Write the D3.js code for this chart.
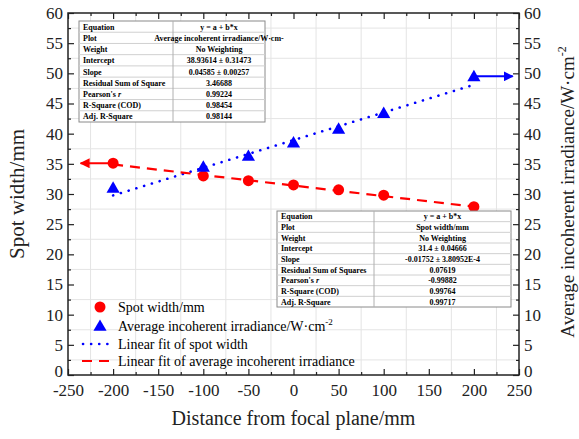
<!DOCTYPE html>
<html><head><meta charset="utf-8">
<script src="https://cdn.jsdelivr.net/npm/d3@7"></script>
<style>body{margin:0;background:#fff}svg{display:block}text{font-family:"Liberation Serif","Times New Roman",serif}</style>
</head><body><svg id="c" width="579" height="439"></svg>
<script>
const distances = [-200, -100, -50, 0, 50, 100, 200];
const spotWidth = [35.1, 33.0, 32.2, 31.5, 30.7, 29.8, 27.9];
const irradiance = [31.0, 34.5, 36.3, 38.5, 40.8, 43.4, 49.5];
const fitSpot = {a: 31.4, b: -0.01752};         // red dashed
const fitIrr = {a: 38.93614, b: 0.04585};      // blue dotted
const xTicks = [-250, -200, -150, -100, -50, 0, 50, 100, 150, 200, 250];
const yTicks = [0, 5, 10, 15, 20, 25, 30, 35, 40, 45, 50, 55, 60];
const legendLabels = ["Spot width/mm", "Average incoherent irradiance/W·cm", "Linear fit of spot width", "Linear fit of average incoherent irradiance"];
const tableTopLabels = ["Equation", "Plot", "Weight", "Intercept", "Slope", "Residual Sum of Square", "Pearson's r", "R-Square (COD)", "Adj. R-Square"];
const tableTopValues = ["y = a + b*x", "Average incoherent irradiance/W·cm-", "No Weighting", "38.93614 ± 0.31473", "0.04585 ± 0.00257", "3.46688", "0.99224", "0.98454", "0.98144"];
const tableBotLabels = ["Equation", "Plot", "Weight", "Intercept", "Slope", "Residual Sum of Squares", "Pearson's r", "R-Square (COD)", "Adj. R-Square"];
const tableBotValues = ["y = a + b*x", "Spot width/mm", "No Weighting", "31.4 ± 0.04666", "-0.01752 ± 3.80952E-4", "0.07619", "-0.99882", "0.99764", "0.99717"];

const svg = d3.select("#c");
const L = 68, R = 519, T = 13, B = 375;
const x = d3.scaleLinear().domain([-250, 250]).range([L, R]);
const y = d3.scaleLinear().domain([0, 60]).range([B, T]);
const RED = "#ff0000", BLUE = "#0000ff";

// grid at minor positions
const gx = d3.range(-225, 250, 50), gy = d3.range(2.5, 60, 5);
const grid = svg.append("g").attr("stroke", "#e4e4e4").attr("stroke-width", 1);
gx.forEach(v => grid.append("line").attr("x1", x(v)).attr("x2", x(v)).attr("y1", T).attr("y2", B));
gy.forEach(v => grid.append("line").attr("y1", y(v)).attr("y2", y(v)).attr("x1", L).attr("x2", R));

// fit lines
const fx = [-200, 200];
const line = d3.line().x(d => x(d[0])).y(d => y(d[1]));
svg.append("path").attr("d", line(fx.map(v => [v, fitIrr.a + fitIrr.b * v])))
  .attr("fill", "none").attr("stroke", BLUE).attr("stroke-width", 2.6)
  .attr("stroke-linecap", "round").attr("stroke-dasharray", "0.1 8");
svg.append("path").attr("d", line(fx.map(v => [v, fitSpot.a + fitSpot.b * v])))
  .attr("fill", "none").attr("stroke", RED).attr("stroke-width", 2.2)
  .attr("stroke-dasharray", "10 7");

// arrows
const defs = svg.append("defs");
[["ar", RED], ["ab", BLUE]].forEach(([id, c]) => {
  defs.append("marker").attr("id", id).attr("viewBox", "0 0 10 10").attr("refX", 9).attr("refY", 5)
    .attr("markerWidth", 5).attr("markerHeight", 5).attr("orient", "auto")
    .append("path").attr("d", "M0,0L10,5L0,10z").attr("fill", c);
});
svg.append("line").attr("x1", x(distances[0])).attr("x2", x(-236)).attr("y1", y(spotWidth[0])).attr("y2", y(spotWidth[0]))
  .attr("stroke", RED).attr("stroke-width", 2).attr("marker-end", "url(#ar)");
const li = distances.length - 1;
svg.append("line").attr("x1", x(distances[li])).attr("x2", x(243)).attr("y1", y(irradiance[li])).attr("y2", y(irradiance[li]))
  .attr("stroke", BLUE).attr("stroke-width", 2).attr("marker-end", "url(#ab)");

// points
svg.append("g").selectAll("circle").data(distances).join("circle")
  .attr("cx", (d) => x(d)).attr("cy", (d, i) => y(spotWidth[i])).attr("r", 5.5).attr("fill", RED);
const tri = d3.symbol().type(d3.symbolTriangle).size(75);
svg.append("g").selectAll("path").data(distances).join("path")
  .attr("d", tri).attr("fill", BLUE)
  .attr("transform", (d, i) => `translate(${x(d)},${y(irradiance[i]) + 1})`);

// tables
function table(x0, x1, xd, y0, y1, labels, values) {
  const g = svg.append("g");
  const n = labels.length, h = (y1 - y0) / n;
  g.append("rect").attr("x", x0).attr("y", y0).attr("width", x1 - x0).attr("height", y1 - y0)
    .attr("fill", "#fff").attr("stroke", "#8a8a8a").attr("stroke-width", 1);
  for (let i = 1; i < n; i++) g.append("line").attr("x1", x0).attr("x2", x1)
    .attr("y1", y0 + i * h).attr("y2", y0 + i * h).attr("stroke", "#d0d0d0");
  g.append("line").attr("x1", xd).attr("x2", xd).attr("y1", y0).attr("y2", y1).attr("stroke", "#b0b0b0");
  labels.forEach((t, i) => {
    const tx = g.append("text").attr("x", x0 + 4).attr("y", y0 + i * h + h / 2 + 3)
      .attr("font-size", 8).attr("font-weight", "bold");
    if (t.endsWith(" r")) { tx.text(t.slice(0, -1)); tx.append("tspan").attr("font-style", "italic").text("r"); }
    else tx.text(t);
  });
  values.forEach((t, i) => g.append("text").attr("x", (xd + x1) / 2).attr("y", y0 + i * h + h / 2 + 3)
    .attr("text-anchor", "middle").attr("font-size", 8).attr("font-weight", "bold").text(t));
}
table(79, 265, 173, 21, 122, tableTopLabels, tableTopValues);
table(277, 511, 374, 211, 307, tableBotLabels, tableBotValues);

// legend
const lg = svg.append("g");
const ly = [307, 326, 344, 361];
lg.append("circle").attr("cx", 100).attr("cy", ly[0]).attr("r", 5.5).attr("fill", RED);
lg.append("path").attr("d", tri).attr("fill", BLUE).attr("transform", `translate(100,${ly[1] + 1})`);
lg.append("line").attr("x1", 83).attr("x2", 111).attr("y1", ly[2]).attr("y2", ly[2]).attr("stroke", BLUE)
  .attr("stroke-width", 2.6).attr("stroke-linecap", "round").attr("stroke-dasharray", "0.1 8");
lg.append("line").attr("x1", 82).attr("x2", 110).attr("y1", ly[3]).attr("y2", ly[3]).attr("stroke", RED)
  .attr("stroke-width", 2.2).attr("stroke-dasharray", "10 7");
legendLabels.forEach((t, i) => {
  const tx = lg.append("text").attr("x", 118).attr("y", ly[i] + 5).attr("font-size", 14).text(t);
  if (i === 1) tx.append("tspan").attr("font-size", 9).attr("dy", -6).text("-2");
});

// axes
const fmt = d => d;
function ax(gen, tr, ticks, minor, labels, pad) {
  const a = svg.append("g").attr("transform", tr);
  a.call(gen.tickValues(ticks).tickSizeInner(-6).tickSizeOuter(0).tickPadding(pad).tickFormat(labels ? fmt : ""));
  a.selectAll("text").attr("font-size", 17).attr("font-family", "Liberation Serif").attr("fill", "#222");
  a.select(".domain").remove();
  const m = svg.append("g").attr("transform", tr);
  m.call(gen.tickValues(minor).tickSizeInner(-3).tickSizeOuter(0).tickFormat(""));
  m.select(".domain").remove();
  return a;
}
const xMinor = d3.range(-225, 250, 50), yMinor = d3.range(2.5, 60, 5);
ax(d3.axisBottom(x), `translate(0,${B})`, xTicks, xMinor, true, 9);
ax(d3.axisTop(x), `translate(0,${T})`, xTicks, xMinor, false, 4);
const la = ax(d3.axisLeft(y), `translate(${L},0)`, yTicks, yMinor, true, 5);
const ra = ax(d3.axisRight(y), `translate(${R},0)`, yTicks, yMinor, true, 5);
[la, ra].forEach(a => a.selectAll(".tick").filter(d => d === 0).select("text").attr("dy", "0.1em"));
svg.selectAll(".tick line").attr("stroke", "#222").attr("stroke-width", 1.2);
svg.append("rect").attr("x", L).attr("y", T).attr("width", R - L).attr("height", B - T)
  .attr("fill", "none").attr("stroke", "#222").attr("stroke-width", 1.5);

// titles
svg.append("text").attr("x", (L + R) / 2).attr("y", 425).attr("text-anchor", "middle")
  .attr("font-size", 20).attr("fill", "#222").text("Distance from focal plane/mm");
svg.append("text").attr("transform", `translate(24,${(T + B) / 2}) rotate(-90)`).attr("text-anchor", "middle")
  .attr("font-size", 21).attr("fill", "#222").text("Spot width/mm");
const rt = svg.append("text").attr("transform", `translate(574,${(T + B) / 2 - 2}) rotate(-90)`).attr("text-anchor", "middle")
  .attr("font-size", 19).attr("fill", "#222").text("Average incoherent irradiance/W·cm");
rt.append("tspan").attr("font-size", 12).attr("dy", -8).text("-2");
</script></body></html>
